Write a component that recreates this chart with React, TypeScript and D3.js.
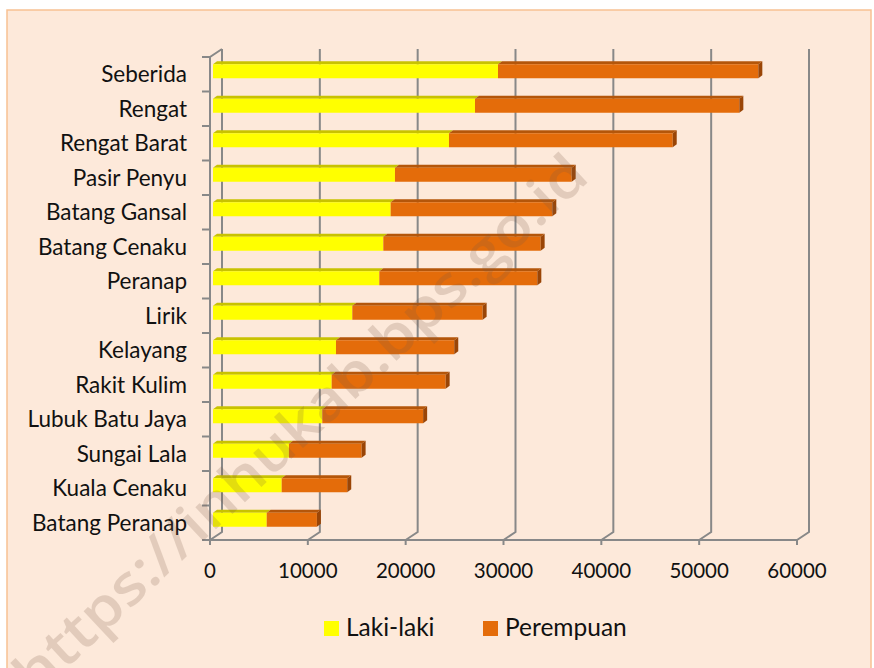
import React, { useRef, useEffect } from "react";
import * as d3 from "d3";

const categories = [
  "Seberida", "Rengat", "Rengat Barat", "Pasir Penyu", "Batang Gansal",
  "Batang Cenaku", "Peranap", "Lirik", "Kelayang", "Rakit Kulim",
  "Lubuk Batu Jaya", "Sungai Lala", "Kuala Cenaku", "Batang Peranap",
];
const lakiLaki = [29130, 26780, 24120, 18600, 18160, 17410, 17000, 14240, 12570, 12130, 11170, 7760, 7020, 5490];
const perempuan = [26610, 27020, 22870, 18060, 16520, 16080, 16150, 13320, 12090, 11650, 10310, 7430, 6700, 5130];
const xTicks = [0, 10000, 20000, 30000, 40000, 50000, 60000];
const seriesNames = ["Laki-laki", "Perempuan"];

const W = 874, H = 668;
const font = "Lato, 'Open Sans', sans-serif";
const grid = "#888888";
// depth of the plot box and of the bars
const DX = 12, DY = -8;
const bdx = 3, bdy = -3; // front face shift
const tdx = 4, tdy = -3; // bar depth
const colors = {
  front: ["#FFFF00", "#E46C0A"],
  top: ["#C8C200", "#B4560A"],
  side: ["#C0BA00", "#9A4506"],
};

const App = () => {
  const ref = useRef<SVGSVGElement>(null);

  useEffect(() => {
    const svg = d3.select(ref.current);
    svg.selectAll("*").remove();

    svg.append("rect").attr("width", W).attr("height", H).attr("fill", "#fff");
    svg.append("rect")
      .attr("x", 7).attr("y", 10).attr("width", 864).attr("height", 680)
      .attr("fill", "#FDE9DA").attr("stroke", "#F8C193").attr("stroke-width", 1.5);

    const x = d3.scaleLinear().domain([0, 60000]).range([210, 797]);
    const y = d3.scaleBand().domain(categories).range([57, 540]);
    const floorY = 540, topY = 57;

    const g = svg.append("g");

    // back gridlines + floor diagonals
    xTicks.forEach(t => {
      g.append("path")
        .attr("d", `M${x(t)},${floorY} L${x(t) + DX},${floorY + DY} L${x(t) + DX},${topY + DY}`)
        .attr("fill", "none").attr("stroke", grid).attr("stroke-width", 2);
      g.append("line")
        .attr("x1", x(t)).attr("x2", x(t)).attr("y1", floorY).attr("y2", floorY + 5)
        .attr("stroke", grid).attr("stroke-width", 2);
    });
    // left wall
    g.append("path")
      .attr("d", `M${x(0)},${floorY} L${x(0)},${topY} L${x(0) + DX},${topY + DY}`)
      .attr("fill", "none").attr("stroke", grid).attr("stroke-width", 2);
    // floor front line
    g.append("line")
      .attr("x1", x(0)).attr("x2", x(60000)).attr("y1", floorY).attr("y2", floorY)
      .attr("stroke", grid).attr("stroke-width", 2);
    // category ticks
    const bounds = categories.map(c => y(c) as number).concat([floorY]);
    g.selectAll(".ctick").data(bounds).join("line")
      .attr("x1", x(0) - 8).attr("x2", x(0)).attr("y1", d => d).attr("y2", d => d)
      .attr("stroke", grid).attr("stroke-width", 2);

    // stacked bars
    const barH = 14;
    const stacks = categories.map((c, i) => {
      const segs = [[0, lakiLaki[i]], [lakiLaki[i], lakiLaki[i] + perempuan[i]]];
      return { c, segs };
    });
    stacks.forEach(s => {
      const yc = (y(s.c) as number) + y.bandwidth() / 2;
      const y0 = yc - barH / 2 + bdy, y1 = y0 + barH;
      s.segs.forEach((seg, k) => {
        const a = x(seg[0]) + bdx, b = x(seg[1]) + bdx;
        g.append("path")
          .attr("d", `M${a},${y0} L${b},${y0} L${b + tdx},${y0 + tdy} L${a + tdx},${y0 + tdy} Z`)
          .attr("fill", colors.top[k]);
        g.append("rect")
          .attr("x", a).attr("y", y0).attr("width", b - a).attr("height", barH)
          .attr("fill", colors.front[k]);
        if (k === 1) {
          g.append("path")
            .attr("d", `M${b},${y0} L${b + tdx},${y0 + tdy} L${b + tdx},${y1 + tdy} L${b},${y1} Z`)
            .attr("fill", colors.side[k]);
        }
      });
    });

    // category labels
    g.selectAll(".clab").data(categories).join("text")
      .attr("x", 187).attr("y", d => (y(d) as number) + y.bandwidth() / 2)
      .attr("dy", "0.35em").attr("text-anchor", "end")
      .attr("font-family", font).attr("font-size", 22.5).attr("fill", "#111")
      .text(d => d);

    // x tick labels
    g.selectAll(".xlab").data(xTicks).join("text")
      .attr("x", d => x(d)).attr("y", 578).attr("text-anchor", "middle")
      .attr("font-family", font).attr("font-size", 20.5).attr("fill", "#111")
      .text(d => String(d));

    // legend
    const legX = [324, 483];
    seriesNames.forEach((n, k) => {
      g.append("rect").attr("x", legX[k]).attr("y", 621).attr("width", 15).attr("height", 15)
        .attr("fill", colors.front[k]);
      g.append("text").attr("x", legX[k] + 22).attr("y", 636)
        .attr("font-family", font).attr("font-size", 24.5).attr("fill", "#111")
        .text(n);
    });

    // watermark
    svg.append("text")
      .attr("transform", "translate(300,424) rotate(-43)")
      .attr("text-anchor", "middle").attr("dy", "0.35em")
      .attr("font-family", "'Open Sans', sans-serif").attr("font-weight", 600)
      .attr("font-size", 56).attr("fill", "#7A5A46").attr("opacity", 0.2)
      .attr("textLength", 760).attr("lengthAdjust", "spacingAndGlyphs")
      .text("https://inhukab.bps.go.id");
  }, []);

  return (
    <svg ref={ref} width={W} height={H}
      style={{ position: "absolute", left: 0, top: 0, display: "block" }} />
  );
};

export default App;
